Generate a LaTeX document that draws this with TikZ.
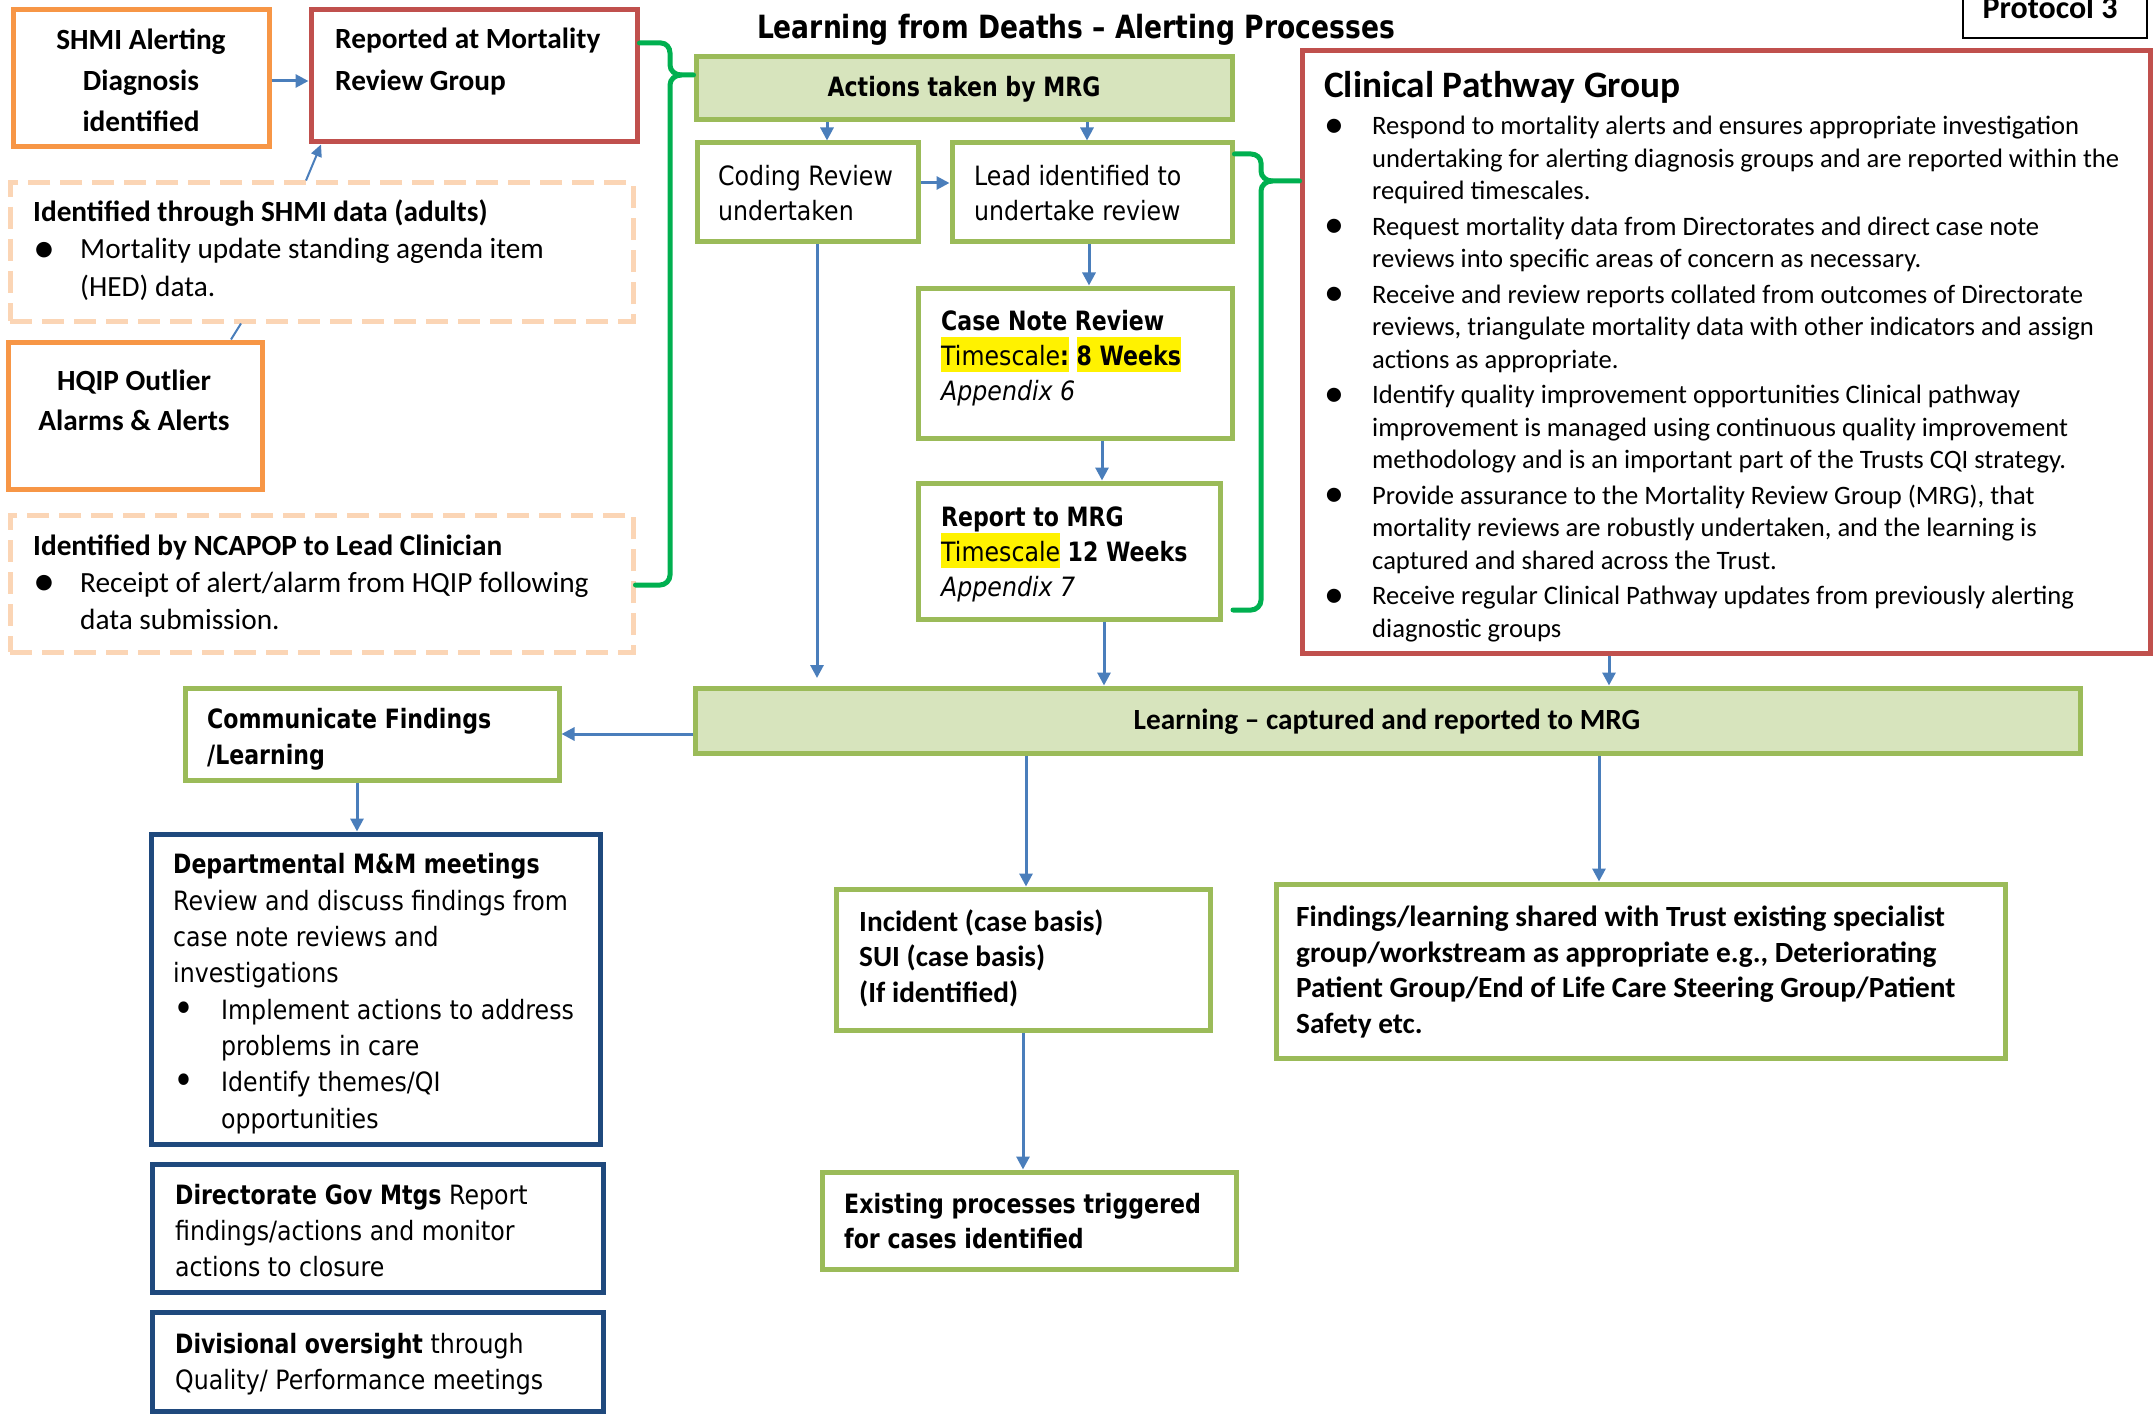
\documentclass[tikz,border=0pt]{standalone}
\usepackage{fontspec}
\setmainfont{Carlito}
\newfontfamily\tah{DejaVu Sans}[FakeStretch=0.89,BoldFeatures={FakeStretch=0.83}]
\usetikzlibrary{arrows.meta,fit,calc}

\definecolor{orng}{HTML}{F79646}
\definecolor{redb}{HTML}{C0504D}
\definecolor{peach}{HTML}{FBD5B5}
\definecolor{grnb}{HTML}{9BBB59}
\definecolor{grnf}{HTML}{D7E4BD}
\definecolor{arrblue}{HTML}{4A7EBB}
\definecolor{navy}{HTML}{1F497D}
\definecolor{brace}{HTML}{00B050}

% bullet with a fixed hanging indent
\newcommand\bul[1]{\makebox[#1][l]{\raisebox{-0.11em}{\scalebox{1.5}{\textbullet}}}}
\newcommand\ind[1]{\hspace*{#1}}
% yellow text highlight
\newcommand\hlite[1]{{\setlength{\fboxsep}{0pt}\colorbox{yellow}{\rule[-7pt]{0pt}{35pt}#1}}}

% text nodes are placed by the baseline of their last line
\tikzset{
  box/.style={line width=5pt, inner sep=0pt},
  obox/.style={box, draw=orng},
  rbox/.style={box, draw=redb},
  gbox/.style={box, draw=grnb},
  gfbox/.style={box, draw=grnb, fill=grnf},
  nbox/.style={box, draw=navy},
  pbox/.style={box, draw=peach, dash pattern=on 22pt off 10pt},
  arr/.style={draw=arrblue, line width=3pt, -{Triangle[length=13pt,width=13pt]}},
  thinarr/.style={draw=arrblue, line width=2pt, -{Triangle[length=12pt,width=11pt]}},
  brk/.style={draw=brace, line width=5pt, line cap=round},
  txt/.style={inner sep=0pt, align=left, anchor=base west},
  cal/.style={txt, font=\fontsize{29.3}{41}\selectfont},
  calb/.style={txt, font=\fontsize{29.3}{41}\selectfont\bfseries},
  cps/.style={txt, font=\fontsize{26.6}{32.5}\selectfont},
  tahr/.style={txt, font=\tah\fontsize{26.6}{35}\selectfont},
  tahb/.style={txt, font=\tah\bfseries\fontsize{26.6}{36}\selectfont},
}

\begin{document}
\begin{tikzpicture}[x=1pt,y=-1pt]
\useasboundingbox (0,0) rectangle (2154,1415);
\fill[white] (0,0) rectangle (2154,1415);

% ---------- boxes ----------
\node[obox, fit={(13,10) (269,147)}] (shmi) {};
\node[rbox, fit={(311,10) (637,142)}] (rep) {};
\node[pbox, fit={(10,183) (633,321)}] (dash1) {};
\node[obox, fit={(8,342) (262,489)}] (hqip) {};
\node[pbox, fit={(10,515) (633,652)}] (dash2) {};
\node[gfbox, fit={(696,57) (1232,120)}] (actions) {};
\node[gbox, fit={(697,143) (918,242)}] (coding) {};
\node[gbox, fit={(952,143) (1232,242)}] (lead) {};
\node[gbox, fit={(918,288) (1232,438)}] (casenote) {};
\node[gbox, fit={(918,483) (1220,619)}] (report) {};
\node[rbox, fit={(1302,51) (2150,653)}] (cpg) {};
\node[draw=black, line width=2pt, inner sep=0pt, fit={(1963,-10) (2147,38)}] (proto) {};
\node[gfbox, fit={(695,688) (2080,753)}] (learning) {};
\node[gbox, fit={(185,688) (559,780)}] (comm) {};
\node[nbox, fit={(151,834) (600,1144)}] (dept) {};
\node[nbox, fit={(152,1164) (603,1292)}] (direct) {};
\node[nbox, fit={(152,1312) (603,1411)}] (divis) {};
\node[gbox, fit={(836,889) (1210,1030)}] (incident) {};
\node[gbox, fit={(822,1172) (1236,1269)}] (existing) {};
\node[gbox, fit={(1276,884) (2005,1058)}] (findings) {};

% ---------- texts ----------
\node[txt, anchor=base, font=\tah\bfseries\fontsize{32}{38}\selectfont] (title) at (1076,39) {Learning from Deaths – Alerting Processes};
\node[calb, anchor=base, font=\fontsize{32}{38}\selectfont\bfseries] (protoT) at (2050,19) {Protocol 3};

\node[calb, align=center, anchor=base] (shmiT) at (141,132) {SHMI Alerting\\Diagnosis\\identified};
\node[calb, font=\fontsize{29.3}{42}\selectfont\bfseries] (repT) at (335,91) {Reported at Mortality\\Review Group};
\node[cal, font=\fontsize{29.3}{37}\selectfont] (dash1T) at (33,296) {\textbf{Identified through SHMI data (adults)}\\\bul{47pt}Mortality update standing agenda item\\\ind{47pt}(HED) data.};
\node[calb, align=center, anchor=base, font=\fontsize{29.3}{40}\selectfont\bfseries] (hqipT) at (134,430) {HQIP Outlier\\Alarms \& Alerts};
\node[cal, font=\fontsize{29.3}{37}\selectfont] (dash2T) at (33,629) {\textbf{Identified by NCAPOP to Lead Clinician}\\\bul{47pt}Receipt of alert/alarm from HQIP following\\\ind{47pt}data submission.};

\node[tahb, anchor=base] (actionsT) at (964,97) {Actions taken by MRG};
\node[tahr] (codingT) at (718,221) {Coding Review\\undertaken};
\node[tahr] (leadT) at (974,221) {Lead identified to\\undertake review};
\node[tahr] (casenoteT) at (941,400) {\textbf{Case Note Review}\\\hlite{Timescale\textbf{:}} \hlite{\textbf{8 Weeks}}\\\textit{Appendix 6}};
\node[tahr] (reportT) at (941,596) {\textbf{Report to MRG}\\\hlite{Timescale} \textbf{12 Weeks}\\\textit{Appendix 7}};

\node[calb, font=\fontsize{37.3}{44}\selectfont\bfseries] (cpgH) at (1324,98) {Clinical Pathway Group};
\node[cps] (cpgT) at (1324,637) {%
\bul{48pt}Respond to mortality alerts and ensures appropriate investigation\\
\ind{48pt}undertaking for alerting diagnosis groups and are reported within the\\
\ind{48pt}required timescales.\\[3pt]
\bul{48pt}Request mortality data from Directorates and direct case note\\
\ind{48pt}reviews into specific areas of concern as necessary.\\[3pt]
\bul{48pt}Receive and review reports collated from outcomes of Directorate\\
\ind{48pt}reviews, triangulate mortality data with other indicators and assign\\
\ind{48pt}actions as appropriate.\\[3pt]
\bul{48pt}Identify quality improvement opportunities Clinical pathway\\
\ind{48pt}improvement is managed using continuous quality improvement\\
\ind{48pt}methodology and is an important part of the Trusts CQI strategy.\\[3pt]
\bul{48pt}Provide assurance to the Mortality Review Group (MRG), that\\
\ind{48pt}mortality reviews are robustly undertaken, and the learning is\\
\ind{48pt}captured and shared across the Trust.\\[3pt]
\bul{48pt}Receive regular Clinical Pathway updates from previously alerting\\
\ind{48pt}diagnostic groups};

\node[calb, anchor=base] (learningT) at (1387,729) {Learning – captured and reported to MRG};
\node[tahb] (commT) at (207,764) {Communicate Findings\\/Learning};
\node[tahr, font=\tah\fontsize{26.6}{36.3}\selectfont] (deptT) at (173,1128) {\textbf{Departmental M\&M meetings}\\Review and discuss findings from\\case note reviews and\\investigations\\\bul{48pt}Implement actions to address\\\ind{48pt}problems in care\\\bul{48pt}Identify themes/QI\\\ind{48pt}opportunities};
\node[tahr, font=\tah\fontsize{26.6}{36}\selectfont] (directT) at (175,1276) {\textbf{Directorate Gov Mtgs} Report\\findings/actions and monitor\\actions to closure};
\node[tahr, font=\tah\fontsize{26.6}{36}\selectfont] (divisT) at (175,1389) {\textbf{Divisional oversight} through\\Quality/ Performance meetings};
\node[calb, font=\fontsize{29.3}{35.5}\selectfont\bfseries] (incidentT) at (859,1002) {Incident (case basis)\\SUI (case basis)\\(If identified)};
\node[tahb, font=\tah\bfseries\fontsize{26.6}{35}\selectfont] (existingT) at (844,1248) {Existing processes triggered\\for cases identified};
\node[calb, font=\fontsize{29.3}{35.5}\selectfont\bfseries] (findingsT) at (1296,1033) {Findings/learning shared with Trust existing specialist\\group/workstream as appropriate e.g., Deteriorating\\Patient Group/End of Life Care Steering Group/Patient\\Safety etc.};

% ---------- connectors ----------
\draw[arr] (shmi.east |- 0,81) -- (rep.west |- 0,81);
\draw[thinarr] (306,0 |- dash1.north) -- (321,0 |- rep.south);
\draw[draw=arrblue, line width=2pt] (241,0 |- dash1.south) -- (231,0 |- hqip.north);
\draw[arr] (827,0 |- actions.south) -- (827,0 |- coding.north);
\draw[arr] (1087,0 |- actions.south) -- (1087,0 |- lead.north);
\draw[arr] (coding.east |- 0,183) -- (lead.west |- 0,183);
\draw[arr] (1089,0 |- lead.south) -- (1089,0 |- casenote.north);
\draw[arr] (1102,0 |- casenote.south) -- (1102,0 |- report.north);
\coordinate (codingEnd) at (817,678);
\draw[arr] (817,0 |- coding.south) -- (codingEnd);
\draw[arr] (1104,0 |- report.south) -- (1104,0 |- learning.north);
\draw[arr] (1609,0 |- cpg.south) -- (1609,0 |- learning.north);
\draw[arr] (learning.west |- 0,734) -- (comm.east |- 0,734);
\draw[arr] (357,0 |- comm.south) -- (357,0 |- dept.north);
\draw[arr] (1026,0 |- learning.south) -- (1026,0 |- incident.north);
\draw[arr] (1023,0 |- incident.south) -- (1023,0 |- existing.north);
\draw[arr] (1599,0 |- learning.south) -- (1599,0 |- findings.north);

% ---------- green braces ----------
\draw[brk] (rep.east |- 0,43) -- (661,43) to[out=0,in=90] (670,53) -- (670,65)
  to[out=-90,in=180] (681,75) -- (actions.west |- 0,75);
\draw[brk] (681,75) to[out=180,in=90] (670,85) -- (670,575)
  to[out=-90,in=0] (660,585) -- (dash2.east |- 0,585);
\coordinate (rbEnd) at (1233,610);
\draw[brk] (lead.east |- 0,154) -- (1251,154) to[out=0,in=90] (1261,163) -- (1261,171)
  to[out=-90,in=180] (1272,181) -- (cpg.west |- 0,181);
\draw[brk] (1272,181) to[out=180,in=90] (1261,191) -- (1261,600)
  to[out=-90,in=0] (1251,610) -- (rbEnd);
\end{tikzpicture}
\end{document}
